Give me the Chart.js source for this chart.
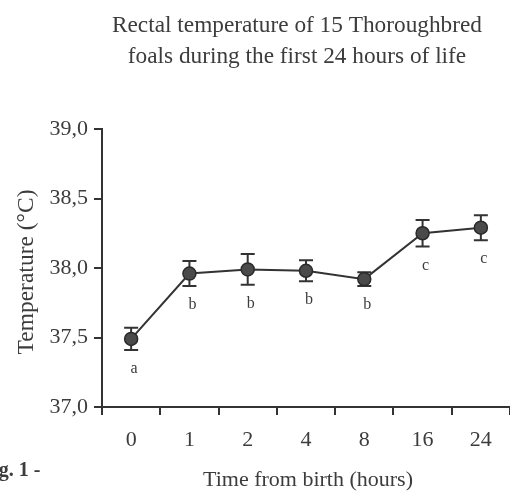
<!DOCTYPE html>
<html>
<head>
<meta charset="utf-8">
<script src="https://cdn.jsdelivr.net/npm/chart.js@4.4.1/dist/chart.umd.min.js"></script>
<style>
html, body { margin: 0; padding: 0; background: #fff; }
#wrap { width: 510px; height: 491px; position: relative; }
</style>
</head>
<body>
<div id="wrap"><canvas id="chart"></canvas></div>
<script>
const hours = ['0', '1', '2', '4', '8', '16', '24'];
const meanTemp = [37.49, 37.96, 37.99, 37.98, 37.92, 38.25, 38.29];
const semTemp = [0.08, 0.09, 0.11, 0.075, 0.05, 0.095, 0.09];
const groupLetters = ['a', 'b', 'b', 'b', 'b', 'c', 'c'];
const yTicks = [37.0, 37.5, 38.0, 38.5, 39.0];
const titleLines = ['Rectal temperature of 15 Thoroughbred', 'foals during the first 24 hours of life'];

const SERIF = "'Liberation Serif', 'Times New Roman', serif";
const INK = '#333';
const TEXT = '#3c3c3c';

// error bars under the points
const errorBars = {
    id: 'errorBars',
    beforeDatasetsDraw(chart) {
        const ctx = chart.ctx;
        const x = chart.scales.x, y = chart.scales.y;
        ctx.save();
        ctx.strokeStyle = INK;
        ctx.lineWidth = 2;
        meanTemp.forEach(function (m, i) {
            const px = x.getPixelForValue(i);
            const top = y.getPixelForValue(m + semTemp[i]);
            const bot = y.getPixelForValue(m - semTemp[i]);
            ctx.beginPath();
            ctx.moveTo(px, top); ctx.lineTo(px, bot);
            ctx.moveTo(px - 7, top); ctx.lineTo(px + 7, top);
            ctx.moveTo(px - 7, bot); ctx.lineTo(px + 7, bot);
            ctx.stroke();
        });
        ctx.restore();
    }
};

// title, axis titles, letters
const texts = {
    id: 'texts',
    afterDraw(chart) {
        const ctx = chart.ctx;
        const x = chart.scales.x, y = chart.scales.y;
        ctx.save();
        ctx.fillStyle = TEXT;

        ctx.font = '16px ' + SERIF;
        ctx.textAlign = 'center';
        ctx.textBaseline = 'middle';
        groupLetters.forEach(function (l, i) {
            const px = x.getPixelForValue(i);
            const bot = y.getPixelForValue(meanTemp[i] - semTemp[i]);
            ctx.fillText(l, px + 3, bot + 19);
        });

        ctx.textBaseline = 'alphabetic';
        ctx.font = '23.3px ' + SERIF;
        ctx.fillText(titleLines[0], 297, 32);
        ctx.fillText(titleLines[1], 297, 63);

        ctx.font = '22px ' + SERIF;
        ctx.fillText('Time from birth (hours)', 308, 486);

        ctx.save();
        ctx.translate(33, 272);
        ctx.rotate(-Math.PI / 2);
        ctx.font = '23.5px ' + SERIF;
        ctx.fillText('Temperature (\u00B0C)', 0, 0);
        ctx.restore();

        ctx.textAlign = 'left';
        ctx.font = 'bold 20px ' + SERIF;
        ctx.fillText('Fig. 1 -', -19, 476);
        ctx.restore();
    }
};

new Chart(document.getElementById('chart'), {
    type: 'line',
    data: {
        labels: hours,
        datasets: [{
            data: meanTemp,
            borderColor: INK,
            borderWidth: 2,
            pointBackgroundColor: '#4a4a4a',
            pointBorderColor: '#2a2a2a',
            pointBorderWidth: 1.5,
            pointRadius: 6.5,
            tension: 0,
        }],
    },
    options: {
        responsive: true,
        maintainAspectRatio: false,
        animation: false,
        layout: { autoPadding: false, padding: { top: 129, right: 0, bottom: 0, left: 0 } },
        plugins: {
            legend: { display: false },
            tooltip: { enabled: false },
        },
        scales: {
            x: {
                type: 'category',
                offset: true,
                afterFit: function (s) { s.height = 84; s.paddingLeft = 0; s.paddingRight = 0; },
                border: { display: true, color: INK, width: 2 },
                grid: { offset: true, drawOnChartArea: false, drawTicks: true, tickLength: 8, color: INK, lineWidth: 2 },
                ticks: { color: TEXT, font: { family: SERIF, size: 22 }, padding: 12, maxRotation: 0 },
            },
            y: {
                min: 37,
                max: 39,
                afterBuildTicks: function (s) { s.ticks = yTicks.map(function (v) { return { value: v }; }); },
                afterFit: function (s) { s.width = 102; },
                border: { display: true, color: INK, width: 2 },
                grid: { drawOnChartArea: false, drawTicks: true, tickLength: 8, color: INK, lineWidth: 2 },
                ticks: {
                    color: TEXT,
                    font: { family: SERIF, size: 22 },
                    padding: 6,
                    callback: function (v) { return Number(v).toFixed(1).replace('.', ','); },
                },
            },
        },
    },
    plugins: [errorBars, texts],
});
</script>
</body>
</html>
